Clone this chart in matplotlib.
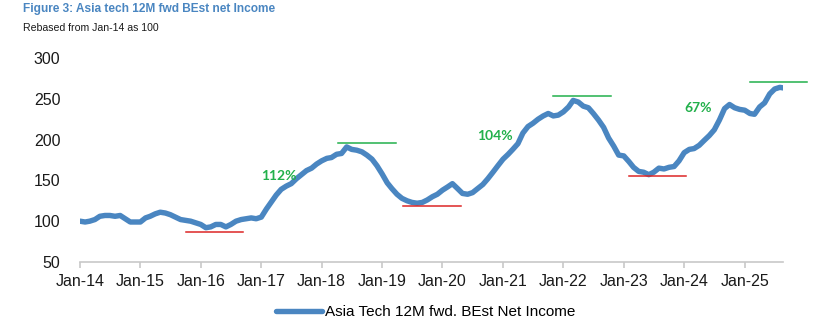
import numpy as np
import pandas as pd
import matplotlib
matplotlib.use("Agg")
import matplotlib.pyplot as plt
import matplotlib.dates as mdates

plt.rcParams['font.family'] = ['Liberation Sans', 'DejaVu Sans']

# monthly index, Jan-14 = 100
months = pd.date_range('2014-01-01', periods=141, freq='MS')
net_income = [
    100, 99, 100, 102, 106, 107, 107, 106, 107, 103, 99, 99,        # 2014
    99, 104, 106, 109, 111, 110, 108, 105, 102, 101, 100, 98,       # 2015
    96, 92, 93, 96, 96, 93, 96, 100, 102, 103, 104, 103,            # 2016
    105, 115, 123, 132, 139, 143, 146, 152, 157, 162, 165, 170,     # 2017
    174, 177, 178, 182, 183, 191, 188, 187, 185, 181, 176, 168,     # 2018
    158, 147, 140, 133, 128, 125, 123, 122, 123, 126, 130, 133,     # 2019
    138, 142, 146, 140, 134, 133, 135, 140, 145, 152, 160, 168,     # 2020
    176, 182, 188, 195, 208, 216, 220, 225, 229, 232, 229, 230,     # 2021
    234, 240, 248, 246, 241, 239, 232, 224, 215, 202, 192, 181,     # 2022
    180, 173, 166, 161, 160, 157, 160, 165, 164, 166, 167, 174,     # 2023
    184, 188, 189, 193, 199, 205, 212, 224, 238, 243, 239, 237,     # 2024
    236, 232, 231, 240, 245, 256, 262, 264, 263,                    # 2025
]

# troughs (red) and peaks (green): level, start, end
troughs = [(87, '2015-10-03', '2016-09-12'),
           (118.5, '2019-05-10', '2020-04-25'),
           (155.5, '2023-02-01', '2024-01-10')]
peaks = [(195.5, '2018-04-08', '2019-03-25'),
         (253.5, '2021-10-30', '2022-10-15'),
         (271, '2025-01-30', '2026-01-15')]
rally_labels = ['112%', '104%', '67%']
rally_pos = [('2017-04-15', 155), ('2020-11-15', 204), ('2024-03-25', 239)]

blue = '#4a86c1'
green = '#22b04b'
red = '#dc2626'

fig = plt.figure(figsize=(8.34, 3.31), dpi=100)
ax = fig.add_axes([0.0959, 0.2085, 0.8429, 0.6163])

ax.plot(months, net_income, color=blue, lw=3.9, solid_capstyle='round',
        label='Asia Tech 12M fwd. BEst Net Income')

for lvl, a, b in troughs:
    ax.plot([pd.Timestamp(a), pd.Timestamp(b)], [lvl, lvl], color=red, lw=1.1, clip_on=False)
for lvl, a, b in peaks:
    ax.plot([pd.Timestamp(a), pd.Timestamp(b)], [lvl, lvl], color=green, lw=1.1, clip_on=False)
for txt, (d, v) in zip(rally_labels, rally_pos):
    ax.text(pd.Timestamp(d), v, txt, color=green, fontsize=10, fontweight='bold',
            family=['Lato', 'DejaVu Sans'], ha='center', va='center')

ax.set_ylim(50, 300)
ax.set_yticks([50, 100, 150, 200, 250, 300])
ax.set_xlim(pd.Timestamp('2014-01-01'), pd.Timestamp('2025-08-20'))
ax.xaxis.set_major_locator(mdates.YearLocator())
ax.xaxis.set_major_formatter(mdates.DateFormatter('%b-%y'))

for s in ['top', 'right', 'left']:
    ax.spines[s].set_visible(False)
ax.spines['bottom'].set_color('#c8c8c8')
ax.spines['bottom'].set_linewidth(1.2)
ax.tick_params(axis='x', colors='#c8c8c8', length=4, width=1.2, pad=5,
               labelcolor='#1a1a1a', labelsize=11.5)
ax.tick_params(axis='y', length=0, pad=14, labelcolor='#1a1a1a', labelsize=11.5)

fig.text(0.027, 0.99, 'Figure 3: Asia tech 12M fwd BEst net Income', color='#4a86c1',
         fontsize=8.6, fontweight='bold', va='top', ha='left')
fig.text(0.027, 0.932, 'Rebased from Jan-14 as 100', color='#1a1a1a',
         fontsize=7.6, va='top', ha='left')

fig.legend(loc='center', bbox_to_anchor=(0.51, 0.057), frameon=False,
           fontsize=11, handlelength=3.0, handletextpad=0.2)

fig.savefig('out.png', dpi=100)
